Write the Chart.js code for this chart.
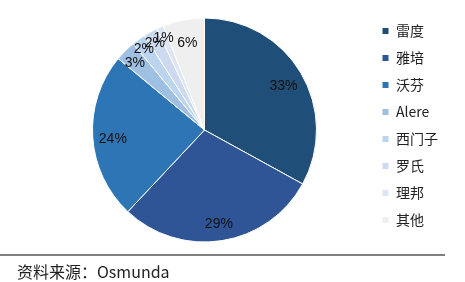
<!DOCTYPE html>
<html>
<head>
<meta charset="utf-8">
<script src="https://cdn.jsdelivr.net/npm/chart.js@4.4.1/dist/chart.umd.min.js"></script>
<style>
    body { margin: 0; background: #fff; width: 465px; height: 282px; overflow: hidden; position: relative; }
    #wrap { position: absolute; left: 0; top: 0; width: 465px; height: 260px; }
    #rule { position: absolute; left: 0; top: 254px; width: 445px; height: 2px; background: #808080; }
    #source { position: absolute; left: 17px; top: 259px; font: 16px "Noto Sans CJK SC", "Noto Sans", sans-serif; color: #222; }
</style>
</head>
<body>
<div id="wrap"><canvas id="pieChart"></canvas></div>
<div id="rule"></div>
<div id="source">资料来源：Osmunda</div>
<script>
const brands = ["雷度", "雅培", "沃芬", "Alere", "西门子", "罗氏", "理邦", "其他"];
const shares = [33, 29, 24, 3, 2, 2, 1, 6];
const colors = ["#1f4e79", "#2f5597", "#2e75b6", "#9fc0e3", "#bcd5ee", "#ccd9ee", "#dde5f3", "#efefef"];

// etiquettes en pourcentage dans les parts
const pctLabels = {
    id: 'pctLabels',
    afterDatasetsDraw(chart) {
        const ctx = chart.ctx;
        const meta = chart.getDatasetMeta(0);
        ctx.save();
        ctx.font = '14px "Liberation Sans", Arial, sans-serif';
        ctx.fillStyle = '#111';
        ctx.textAlign = 'center';
        ctx.textBaseline = 'middle';
        meta.data.forEach((arc, i) => {
            const mid = (arc.startAngle + arc.endAngle) / 2;
            const k = shares[i] < 3 ? 0.92 : (shares[i] < 5 ? 0.88 : 0.82);
            const r = arc.outerRadius * k;
            ctx.fillText(shares[i] + '%', arc.x + Math.cos(mid) * r, arc.y + Math.sin(mid) * r + 3);
        });
        ctx.restore();
    }
};

const ctx = document.getElementById('pieChart').getContext('2d');
new Chart(ctx, {
    type: 'pie',
    data: {
        labels: brands,
        datasets: [{
            data: shares,
            backgroundColor: colors,
            borderColor: '#ffffff',
            borderWidth: 1,
            radius: 112
        }]
    },
    options: {
        responsive: true,
        maintainAspectRatio: false,
        animation: false,
        layout: { padding: { top: 11, bottom: 11, left: 40, right: 17 } },
        plugins: {
            legend: {
                position: 'right',
                align: 'start',
                labels: {
                    boxWidth: 7,
                    boxHeight: 7,
                    padding: 13,
                    color: '#222',
                    font: { size: 14, family: '"Noto Sans CJK SC", sans-serif' }
                }
            },
            tooltip: { enabled: false }
        }
    },
    plugins: [pctLabels]
});
</script>
</body>
</html>
